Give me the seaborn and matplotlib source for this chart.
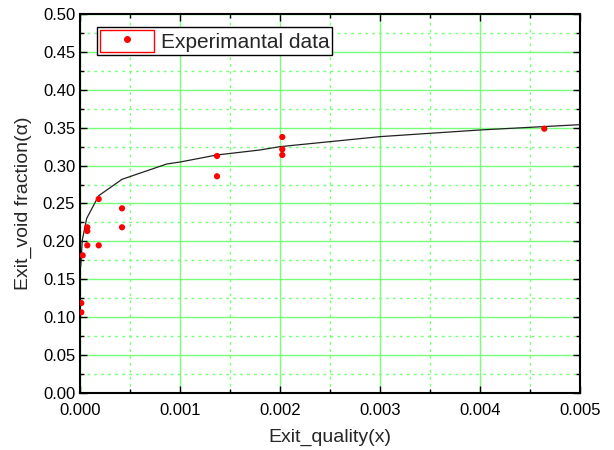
import matplotlib
matplotlib.use("Agg")
import matplotlib.pyplot as plt
import seaborn as sns
import pandas as pd
from matplotlib.ticker import MultipleLocator, FormatStrFormatter
from matplotlib.patches import Rectangle
from matplotlib.lines import Line2D
from matplotlib.legend_handler import HandlerTuple

# Experimental data
exp_x = [0.000013, 0.000013, 0.000027, 0.000073, 0.000073, 0.000073, 0.000187, 0.000187,
         0.00042, 0.00042, 0.00137, 0.00137, 0.002023, 0.002023, 0.002023, 0.004643]
exp_y = [0.1064, 0.1187, 0.1816, 0.1948, 0.2137, 0.2186, 0.1948, 0.2559,
         0.2186, 0.2436, 0.2859, 0.3127, 0.3140, 0.3215, 0.3377, 0.3487]

# Model curve
model_x = [0.000007, 0.000023, 0.000067, 0.000187, 0.00042, 0.000867, 0.001, 0.001367,
           0.0018, 0.002, 0.003, 0.004, 0.005]
model_y = [0.1667, 0.2018, 0.2304, 0.2603, 0.2819, 0.3021, 0.3047, 0.3140,
           0.3206, 0.3250, 0.3382, 0.3470, 0.3540]

sns.set_style("white")
plt.rcParams['font.family'] = ['Liberation Sans', 'DejaVu Sans']

fig = plt.figure(figsize=(6.14, 4.5), dpi=100)
ax = fig.add_axes([80/614, 57/450, 500/614, 379/450])

df_exp = pd.DataFrame({"x": exp_x, "y": exp_y})
df_mod = pd.DataFrame({"x": model_x, "y": model_y})

sns.lineplot(data=df_mod, x="x", y="y", ax=ax, color="#222222", lw=0.9, sort=False, zorder=3)
sns.scatterplot(data=df_exp, x="x", y="y", ax=ax, color="red", s=20, edgecolor="none", zorder=4)

ax.set_xlim(0, 0.005)
ax.set_ylim(0, 0.5)
ax.xaxis.set_major_locator(MultipleLocator(0.001))
ax.xaxis.set_minor_locator(MultipleLocator(0.0005))
ax.yaxis.set_major_locator(MultipleLocator(0.05))
ax.yaxis.set_minor_locator(MultipleLocator(0.025))
ax.xaxis.set_major_formatter(FormatStrFormatter("%.3f"))
ax.yaxis.set_major_formatter(FormatStrFormatter("%.2f"))

ax.grid(True, which="major", color="#77ff77", lw=1.0, ls="-")
ax.grid(True, which="minor", color="#77ff77", lw=1.0, ls=(0, (2, 3)))
ax.set_axisbelow(True)

ax.tick_params(which="both", direction="in", top=True, right=True, bottom=True, left=True,
               labelsize=12, colors="black")
ax.tick_params(which="major", length=5, width=1)
ax.tick_params(which="minor", length=3, width=1)
ax.tick_params(axis="x", pad=7)
for s in ax.spines.values():
    s.set_color("black")
    s.set_linewidth(1.5)

ax.set_xlabel("Exit_quality(x)", fontsize=14, labelpad=8)
ax.set_ylabel("Exit_void fraction(α)", fontsize=14, labelpad=8)

rect = Rectangle((0, 0), 1, 1, facecolor="none", edgecolor="red", lw=1)
dot = Line2D([], [], color="red", marker="o", ls="none", markersize=4)
leg = ax.legend([(rect, dot)], ["Experimantal data"], handler_map={tuple: HandlerTuple(ndivide=1)},
                loc="upper left", bbox_to_anchor=(0.034, 0.965), fontsize=15, frameon=True,
                fancybox=False, edgecolor="black", framealpha=1, borderpad=0.15,
                handlelength=2.6, handleheight=1.2, handletextpad=0.3, borderaxespad=0)
leg.get_frame().set_linewidth(1.0)

fig.savefig("out.png", dpi=100)
